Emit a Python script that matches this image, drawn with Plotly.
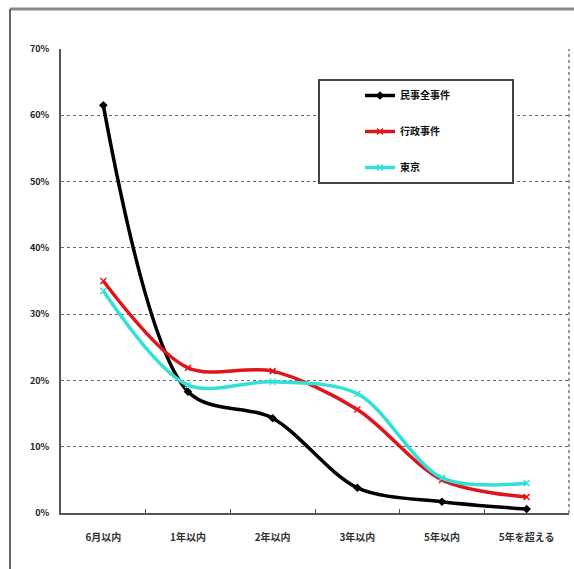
import plotly.graph_objects as go

categories = ["6月以内", "1年以内", "2年以内", "3年以内", "5年以内", "5年を超える"]
minji = [61.5, 18.3, 14.3, 3.8, 1.7, 0.6]
gyosei = [35.0, 21.9, 21.4, 15.6, 5.0, 2.4]
tokyo = [33.5, 19.3, 19.8, 18.0, 5.3, 4.5]
series_names = ["民事全事件", "行政事件", "東京"]
y_ticks = [0, 10, 20, 30, 40, 50, 60, 70]

FONT = "Noto Sans CJK JP"
PAD = "\u00a0" * 25
fig = go.Figure()
specs = [
    (series_names[0], minji, "#000000", "diamond", 5),
    (series_names[1], gyosei, "#e0141c", "x-thin-open", 6),
    (series_names[2], tokyo, "#33e0d8", "x-thin-open", 6),
]
for i, (name, vals, color, sym, ms) in enumerate(specs):
    fig.add_trace(go.Scatter(
        x=categories, y=vals, name=name + (PAD if i == 0 else ""), mode="lines+markers",
        line=dict(color=color, width=3.5, shape="spline", smoothing=0.9),
        marker=dict(symbol=sym, size=ms, color=color, line=dict(color=color, width=1.5)),
        legendgroup=f"g{i}",
    ))

fig.update_layout(
    width=574, height=569,
    margin=dict(l=61, r=5, t=49, b=56),
    paper_bgcolor="white", plot_bgcolor="white",
    font=dict(family=FONT, size=10, color="#222"),
    showlegend=True,
    legend=dict(
        x=(318 - 61) / 508, y=(513 - 79) / 464, xanchor="left", yanchor="top",
        bgcolor="white", bordercolor="#444", borderwidth=2,
        font=dict(family=FONT, size=10, color="#111", weight="bold"),
        tracegroupgap=17, indentation=40, itemwidth=30,
    ),
    xaxis=dict(
        type="category", showgrid=False, showline=True, linecolor="#555", linewidth=2,
        ticks="inside", tickson="boundaries", ticklen=4, tickcolor="#555",
        tickfont=dict(family=FONT, size=10, color="#333", weight="bold"),
        ticklabelstandoff=14,
        range=[-0.5, 5.5],
    ),
    yaxis=dict(
        range=[0, 70], tickvals=y_ticks, ticktext=[f"{v}%" for v in y_ticks],
        showgrid=True, gridcolor="#666", griddash="3px,3px", gridwidth=1.3,
        showline=True, linecolor="#555", linewidth=2, ticks="",
        tickfont=dict(family=FONT, size=9, color="#222", weight="bold"), zeroline=False,
        ticklabelstandoff=8,
    ),
)

# right dotted border of plot area
fig.add_shape(type="line", xref="paper", yref="paper", x0=1, x1=1, y0=0, y1=1,
              line=dict(color="#666", width=1.3, dash="3px,3px"))
# outer frame
fig.add_shape(type="line", xref="paper", yref="paper",
              x0=(10 - 61) / 508, x1=(574 - 61) / 508, y0=(513 - 9) / 464, y1=(513 - 9) / 464,
              line=dict(color="#888", width=3))
fig.add_shape(type="line", xref="paper", yref="paper",
              x0=(10 - 61) / 508, x1=(10 - 61) / 508, y0=(513 - 9) / 464, y1=(513 - 575) / 464,
              line=dict(color="#666", width=2))

fig.write_html("out.html", config={"displayModeBar": False},
               post_script="document.body.style.margin='0px';")
